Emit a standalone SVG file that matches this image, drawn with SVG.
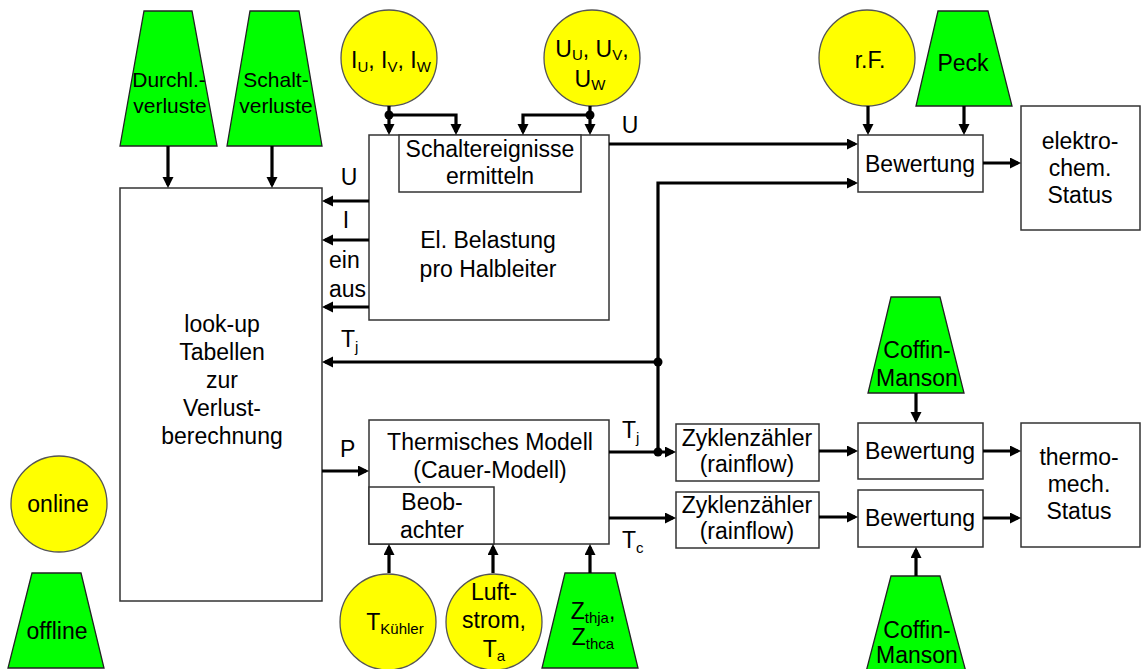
<svg xmlns="http://www.w3.org/2000/svg" width="1142" height="669" viewBox="0 0 1142 669">
<defs>
<marker id="ah" markerUnits="userSpaceOnUse" markerWidth="12" markerHeight="12" refX="8" refY="5.5" orient="auto">
<path d="M0,0 L11,5.5 L0,11 z" fill="#000"/>
</marker>
<style>
.box{fill:#fff;stroke:#333;stroke-width:1.5}
.yel{fill:#ffff00;stroke:#555;stroke-width:1.3}
.grn{fill:#00ff00;stroke:#222;stroke-width:1.3}
.t{font-family:"Liberation Sans",Arial,sans-serif;font-size:23px;fill:#000;text-anchor:middle}
.l{text-anchor:start}
.s21{font-size:21px}
.sub{font-size:15px}
.c{fill:none;stroke:#000;stroke-width:3.2;marker-end:url(#ah)}
.dot{fill:#000}
</style>
</defs>
<rect width="1142" height="669" fill="#fff"/>

<g id="durchl">
<polygon class="grn" points="144,11 192,11 217,146 120,146"/>
<text class="t s21" x="169" y="87">Durchl.-</text>
<text class="t s21" x="170" y="113">verluste</text>
</g>
<g id="schalt">
<polygon class="grn" points="250,11 299,11 322,146 227,146"/>
<text class="t s21" x="276" y="87">Schalt-</text>
<text class="t s21" x="276" y="113">verluste</text>
</g>
<g id="ist">
<circle class="yel" cx="389" cy="58" r="48"/>
<text class="t" x="391" y="68">I<tspan class="sub" dy="4">U</tspan><tspan dy="-4">, I</tspan><tspan class="sub" dy="4">V</tspan><tspan dy="-4">, I</tspan><tspan class="sub" dy="4">W</tspan></text>
</g>
<g id="ust">
<circle class="yel" cx="592" cy="58" r="48"/>
<text class="t" x="592" y="57">U<tspan class="sub" dy="3">U</tspan><tspan dy="-3">, U</tspan><tspan class="sub" dy="3">V</tspan><tspan dy="-3">,</tspan></text>
<text class="t" x="590" y="87">U<tspan class="sub" dy="3">W</tspan></text>
</g>
<g id="rf">
<circle class="yel" cx="867" cy="58" r="48"/>
<text class="t" x="870" y="68">r.F.</text>
</g>
<g id="peck">
<polygon class="grn" points="938,11 988,11 1012,106 916,106"/>
<text class="t" x="963" y="71">Peck</text>
</g>
<g id="elbel">
<rect class="box" x="369" y="135" width="240" height="185"/>
<text class="t" x="488" y="248">El. Belastung</text>
<text class="t" x="488" y="277">pro Halbleiter</text>
</g>
<g id="schaltereignisse">
<rect class="box" x="399" y="135" width="182" height="57"/>
<text class="t" x="490" y="157">Schaltereignisse</text>
<text class="t" x="490" y="184">ermitteln</text>
</g>
<g id="lookup">
<rect class="box" x="120" y="188" width="202" height="413"/>
<text class="t" x="222" y="332">look-up</text>
<text class="t" x="222" y="360">Tabellen</text>
<text class="t" x="222" y="388">zur</text>
<text class="t" x="222" y="416">Verlust-</text>
<text class="t" x="222" y="444">berechnung</text>
</g>
<g id="bew1">
<rect class="box" x="858" y="135" width="125" height="57"/>
<text class="t" x="920" y="172">Bewertung</text>
</g>
<g id="elektro">
<rect class="box" x="1021" y="106" width="119" height="124"/>
<text class="t" x="1080" y="149">elektro-</text>
<text class="t" x="1080" y="176">chem.</text>
<text class="t" x="1080" y="203">Status</text>
</g>
<g id="therm">
<rect class="box" x="369" y="420" width="240" height="124"/>
<text class="t" x="490" y="450">Thermisches Modell</text>
<text class="t" x="490" y="478">(Cauer-Modell)</text>
</g>
<g id="beob">
<rect class="box" x="369" y="487" width="125" height="57"/>
<text class="t" x="432" y="510">Beob-</text>
<text class="t" x="432" y="538">achter</text>
</g>
<g id="zyk1">
<rect class="box" x="676" y="424" width="143" height="57"/>
<text class="t" x="747" y="446">Zyklenzähler</text>
<text class="t" x="747" y="472">(rainflow)</text>
</g>
<g id="zyk2">
<rect class="box" x="676" y="492" width="143" height="56"/>
<text class="t" x="747" y="513">Zyklenzähler</text>
<text class="t" x="747" y="539">(rainflow)</text>
</g>
<g id="coffin1">
<polygon class="grn" points="891,297 940,297 964,393 868,393"/>
<text class="t" x="917" y="358">Coffin-</text>
<text class="t" x="917" y="386">Manson</text>
</g>
<g id="bew2">
<rect class="box" x="858" y="423" width="125" height="56"/>
<text class="t" x="920" y="459">Bewertung</text>
</g>
<g id="bew3">
<rect class="box" x="858" y="490" width="125" height="57"/>
<text class="t" x="920" y="526">Bewertung</text>
</g>
<g id="thermo">
<rect class="box" x="1021" y="423" width="119" height="124"/>
<text class="t" x="1079" y="465">thermo-</text>
<text class="t" x="1079" y="492">mech.</text>
<text class="t" x="1079" y="519">Status</text>
</g>
<g id="coffin2">
<polygon class="grn" points="891,576 940,576 966,672 866,672"/>
<text class="t" x="917" y="638">Coffin-</text>
<text class="t" x="917" y="663">Manson</text>
</g>
<g id="tkuehler">
<circle class="yel" cx="388" cy="622" r="48"/>
<text class="t" x="395" y="630">T<tspan class="sub" dy="4">Kühler</tspan></text>
</g>
<g id="luft">
<circle class="yel" cx="494" cy="622" r="48"/>
<text class="t" x="494" y="600">Luft-</text>
<text class="t" x="494" y="628">strom,</text>
<text class="t" x="494" y="657">T<tspan class="sub" dy="4">a</tspan></text>
</g>
<g id="zth">
<polygon class="grn" points="565,573 615,573 638,668 542,668"/>
<text class="t" x="593" y="619">Z<tspan class="sub" dy="4">thja</tspan><tspan dy="-4">,</tspan></text>
<text class="t" x="593" y="645">Z<tspan class="sub" dy="4">thca</tspan></text>
</g>
<g id="online">
<circle class="yel" cx="59" cy="504" r="48"/>
<text class="t" x="58" y="512">online</text>
</g>
<g id="offline">
<polygon class="grn" points="32,573 81,573 104,668 8,668"/>
<text class="t" x="57" y="639">offline</text>
</g>

<g id="connectors">
<path class="c" d="M168,146 V185"/>
<path class="c" d="M272,146 V185"/>
<path class="c" d="M389,106 V132"/>
<path class="c" d="M389,115 H456 V132"/>
<path class="c" d="M590,106 V132"/>
<path class="c" d="M590,115 H523 V132"/>
<circle class="dot" cx="389" cy="115" r="4.5"/>
<circle class="dot" cx="590" cy="115" r="4.5"/>
<path class="c" d="M868,106 V132"/>
<path class="c" d="M964,106 V132"/>
<path class="c" d="M609,144 H855"/>
<path class="c" d="M658,452 V183 H855"/>
<path class="c" d="M983,163 H1018"/>
<path class="c" d="M369,201 H325"/>
<path class="c" d="M369,240 H325"/>
<path class="c" d="M369,307 H325"/>
<path class="c" d="M658,362 H325"/>
<circle class="dot" cx="658" cy="362" r="4.5"/>
<path class="c" d="M322,471 H366"/>
<path class="c" d="M609,452 H673"/>
<circle class="dot" cx="658" cy="452" r="4.5"/>
<path class="c" d="M609,518 H673"/>
<path class="c" d="M819,451 H855"/>
<path class="c" d="M819,517 H855"/>
<path class="c" d="M983,451 H1018"/>
<path class="c" d="M983,518 H1018"/>
<path class="c" d="M916,393 V420"/>
<path class="c" d="M916,576 V550"/>
<path class="c" d="M389,573 V547"/>
<path class="c" d="M493,573 V547"/>
<path class="c" d="M590,573 V547"/>
<text class="t" x="630" y="133">U</text>
<text class="t" x="349" y="185">U</text>
<text class="t" x="346" y="228">I</text>
<text class="t l" x="329" y="268">ein</text>
<text class="t l" x="329" y="297">aus</text>
<text class="t l" x="341" y="347">T<tspan class="sub" dy="5">j</tspan></text>
<text class="t l" x="340" y="457">P</text>
<text class="t l" x="622" y="438">T<tspan class="sub" dy="5">j</tspan></text>
<text class="t l" x="622" y="548">T<tspan class="sub" dy="5">c</tspan></text>
</g>
</svg>
